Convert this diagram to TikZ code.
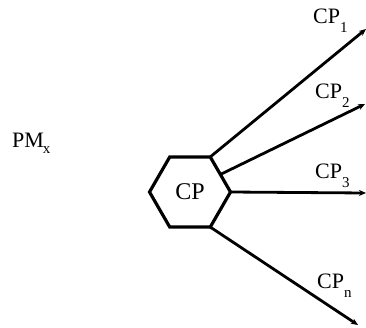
\documentclass[tikz,border=0pt]{standalone}
\usepackage{fontspec}
\setmainfont{Liberation Serif}
\usetikzlibrary{shapes.geometric,arrows.meta}
% lowered, smaller index placed after a label
\newcommand\lowsub[2][0.45em]{\raisebox{-#1}{\fontsize{15}{15}\selectfont #2}}

\begin{document}
\begin{tikzpicture}[x=1pt,y=-1pt,
  lbl/.style={inner sep=0pt, anchor=base west, font=\fontsize{22}{24}\selectfont},
  link/.style={line width=2.8pt, -{Stealth[length=7pt,width=6pt]}},
  hexa/.style={regular polygon, regular polygon sides=6, draw, line width=3.2pt,
    minimum size=81pt, inner sep=0pt, outer sep=0pt, font=\fontsize{24}{26}\selectfont}]
\useasboundingbox (0,0) rectangle (366,327);
\clip (0,0) rectangle (366,327);

% central process
\node[hexa] (cp) at (190,192) {CP};

% outgoing branches
\coordinate (e1) at (366,29);
\coordinate (e2) at (365,104);
\coordinate (e3) at (366,193);
\coordinate (en) at (358,325);

\draw[link] (cp.60) -- (e1);
\draw[link] (cp.30) -- (e2);
\draw[link] (cp.0) -- (e3);
\draw[link] (cp.-60) -- (en);

% branch labels
\node[lbl] (l1) at (313,23) {CP\lowsub{1}};
\node[lbl] (l2) at (315,98) {CP\lowsub{2}};
\node[lbl] (l3) at (315,178) {CP\lowsub{3}};
\node[lbl] (ln) at (317,288) {CP\lowsub{n}};
\node[lbl] (pm) at (12,147) {PM\kern-1pt\lowsub[0.28em]{x}};
\end{tikzpicture}
\end{document}
